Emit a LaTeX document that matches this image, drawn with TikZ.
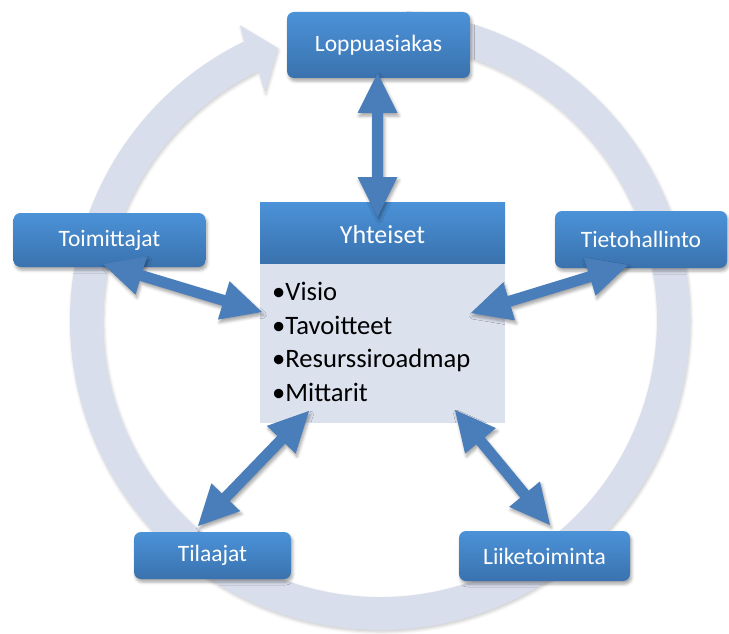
\documentclass[tikz,border=0pt]{standalone}
\usepackage{fontspec}
\setmainfont{Carlito}
\usetikzlibrary{calc,shadows.blur}

\definecolor{ringfill}{HTML}{D9DEEC}
\definecolor{bodyfill}{HTML}{DCE1EE}
\definecolor{boxtop}{HTML}{4B92D8}
\definecolor{boxbottom}{HTML}{3A72AE}
\definecolor{arrowblue}{HTML}{4A7EBB}

\tikzset{
  softshadow/.style={blur shadow={shadow xshift=1.5pt, shadow yshift=-3pt,
      shadow blur radius=3pt, shadow opacity=35}},
  pill/.style={rounded corners=7pt, top color=boxtop, bottom color=boxbottom,
      draw=none, text=white, inner sep=0pt, softshadow,
      font=\fontsize{23.5}{28}\selectfont},
  header/.style={top color=boxtop, bottom color=boxbottom, draw=none,
      text=white, inner sep=0pt, font=\fontsize{26}{30}\selectfont},
  listbody/.style={fill=bodyfill, draw=none, inner sep=0pt},
  item/.style={anchor=base west, inner sep=0pt, text=black,
      font=\fontsize{26.6}{30}\selectfont},
  blockarrow/.style={fill=arrowblue, draw=none, softshadow},
  ringarrow/.style={fill=ringfill, draw=none,
      blur shadow={shadow xshift=1pt, shadow yshift=-2pt,
      shadow blur radius=3pt, shadow opacity=20}},
}

% double-headed block arrow between two named coordinates
\newcommand\twowayarrow[2]{%
  \coordinate (#1-h) at ($(#1)!40pt!(#2)$);
  \coordinate (#2-h) at ($(#2)!40pt!(#1)$);
  \path[blockarrow] (#1)
    -- ($(#1-h)!20pt!90:(#2)$) -- ($(#1-h)!5.5pt!90:(#2)$)
    -- ($(#2-h)!5.5pt!-90:(#1)$) -- ($(#2-h)!20pt!-90:(#1)$)
    -- (#2)
    -- ($(#2-h)!20pt!90:(#1)$) -- ($(#2-h)!5.5pt!90:(#1)$)
    -- ($(#1-h)!5.5pt!-90:(#2)$) -- ($(#1-h)!20pt!-90:(#2)$)
    -- cycle;
}

\begin{document}
\begin{tikzpicture}[x=1pt,y=1pt]
\useasboundingbox (0,0) rectangle (729,-634);
\clip (0,0) rectangle (729,-634);

% circular arrow around everything
\coordinate (c) at (380,-320);
\path[ringarrow]
  ([shift={(c)}]85:310) arc[start angle=85, end angle=-244, radius=310]
  -- ([shift={(c)}]-244.6:326)
  -- ([shift={(c)}]-249.4:290.5)
  -- ([shift={(c)}]-243.2:255)
  -- ([shift={(c)}]-244:277) arc[start angle=-244, end angle=85, radius=277]
  -- cycle;

% outer boxes
\node[pill, minimum width=183pt, minimum height=66pt] (loppu) at (378.5,-45) {Loppuasiakas};
\node[pill, minimum width=192pt, minimum height=54pt] (toim) at (109.5,-240) {Toimittajat};
\node[pill, minimum width=172pt, minimum height=57pt] (tieto) at (641,-239.5) {Tietohallinto};
\node[pill, minimum width=157pt, minimum height=47pt] (tila) at (212.5,-555.5) {Tilaajat};
\node[pill, minimum width=171pt, minimum height=50pt] (liike) at (544.5,-556) {Liiketoiminta};

% central box
\node[listbody, minimum width=245pt, minimum height=160pt] (body) at (382.5,-343) {};
\node[header, minimum width=245pt, minimum height=61pt] (yht) at (382.5,-232.5) {};
\node[anchor=base, inner sep=0pt, text=white, font=\fontsize{26}{30}\selectfont] (yhtlabel) at (382.5,-243) {Yhteiset};
\node[item] (i1) at (272,-300) {•Visio};
\node[item] (i2) at (272,-334) {•Tavoitteet};
\node[item] (i3) at (272,-367.5) {•Resurssiroadmap};
\node[item] (i4) at (272,-401.5) {•Mittarit};

% arrow end points
\coordinate (pL) at (377.5,-73);
\coordinate (pY) at (377.5,-217);
\coordinate (pT) at (103,-264);
\coordinate (pTY) at (262,-312);
\coordinate (pH) at (628,-265);
\coordinate (pHY) at (471,-313);
\coordinate (pA) at (198,-526);
\coordinate (pAY) at (309,-411);
\coordinate (pK) at (550,-525);
\coordinate (pKY) at (455,-410);

\twowayarrow{pL}{pY}
\twowayarrow{pT}{pTY}
\twowayarrow{pH}{pHY}
\twowayarrow{pA}{pAY}
\twowayarrow{pK}{pKY}
\end{tikzpicture}
\end{document}
